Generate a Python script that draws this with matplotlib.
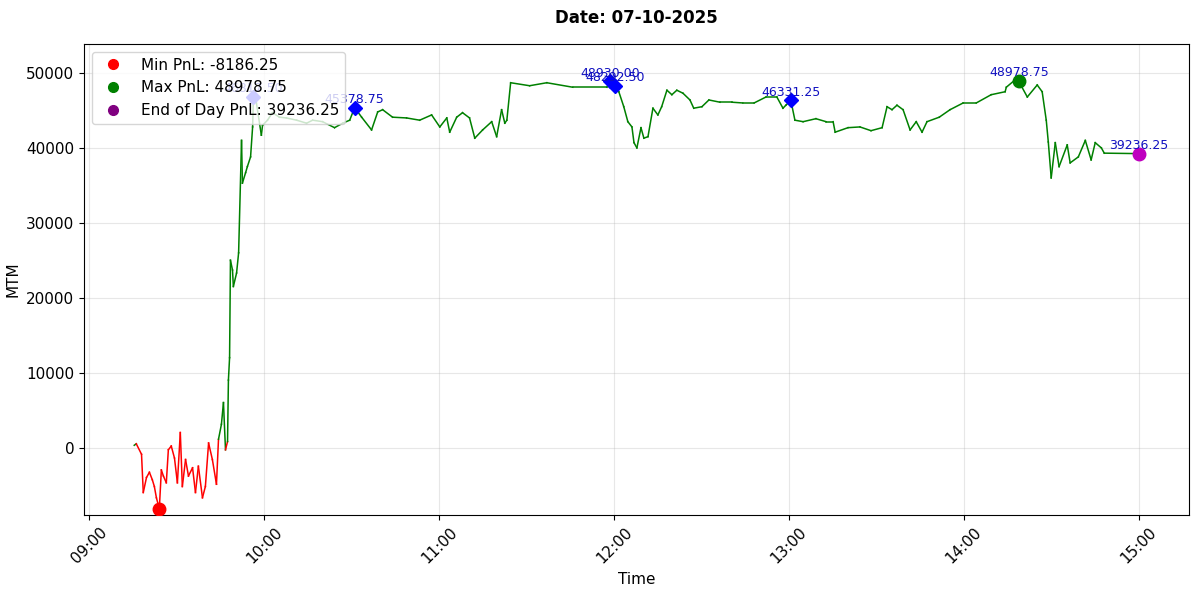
import matplotlib
matplotlib.use("Agg")
import matplotlib.pyplot as plt
import matplotlib.dates as mdates
from matplotlib.lines import Line2D
import datetime as dt

# minutes after 09:00
minutes = [15.4, 16.1, 17.9, 18.5, 19.6, 20.6, 21.6, 22.3, 23.0, 24.0, 24.7, 25.4, 26.4, 27.1, 28.1,
           29.2, 30.2, 31.2, 31.9, 33.0, 34.0, 35.4, 36.4, 37.4, 38.8, 39.8, 40.9, 42.2, 43.6, 44.3,
           45.3, 46.0, 46.7, 47.4, 47.7, 48.1, 48.4, 49.1, 49.4, 50.5, 51.2, 52.2, 52.5, 53.6, 54.2,
           55.3, 56.0, 56.3, 57.3, 59.0, 59.4, 61.1, 62.8, 65.2, 67.6, 71.1, 74.5, 76.6, 80.0, 84.1,
           86.9, 89.3, 91.0, 93.4, 96.8, 98.9, 100.6, 104.0, 108.8, 113.3, 117.4, 120.2, 122.6, 123.6,
           126.0, 128.0, 130.4, 132.2, 134.9, 138.0, 139.7, 141.4, 142.5, 143.2, 144.5, 151.0, 156.9,
           165.8, 177.5, 178.5, 180.2, 181.6, 183.3, 184.7, 186.1, 186.8, 187.8, 189.2, 190.2, 191.6,
           193.3, 195.0, 196.3, 198.1, 199.8, 201.5, 203.6, 206.0, 207.3, 210.1, 212.5, 216.3, 220.4,
           224.1, 228.0, 232.1, 235.8, 237.9, 238.9, 240.6, 242.0, 244.8, 249.2, 252.7, 255.1, 255.8,
           260.2, 264.3, 268.1, 271.9, 273.6, 275.3, 277.0, 279.1, 281.5, 283.6, 285.6, 287.3, 291.5,
           295.2, 299.7, 304.2, 309.3, 314.1, 314.5, 317.2, 318.9, 321.7, 325.1, 326.8, 328.2, 328.9,
           329.9, 331.3, 332.6, 335.4, 336.4, 339.2, 341.6, 343.6, 345.0, 347.1, 348.1, 360.0]
pnl = [300, 500, -900, -6000, -4000, -3300, -4300, -5200, -6700, -8186.25, -3000, -3800, -4700, -300, 200,
       -1400, -4700, 2000, -5200, -1600, -3800, -2700, -6000, -2500, -6700, -5200, 600, -1600, -4900, 1100,
       3100, 6000, -300, 800, 9000, 12000, 25000, 23700, 21500, 23300, 26000, 41000, 35300, 36700, 37500,
       38800, 42800, 46817.50, 46000, 41700, 43000, 43700, 44700, 44100, 44000, 43700, 43300, 43700, 43500, 42700,
       43300, 43700, 45378.75, 44100, 42400, 44800, 45100, 44100, 44000, 43700, 44400, 42800, 44000, 42100,
       44100, 44700, 44000, 41300, 42400, 43500, 41500, 45100, 43300, 43700, 48700, 48300, 48700,
       48100, 48100, 48930.00, 48292.50, 47500, 45500, 43500, 42800, 40700, 40000, 42700, 41300, 41500,
       45300, 44400, 45500, 47700, 47100, 47700, 47300, 46400, 45300, 45500, 46400, 46100, 46100,
       46000, 46000, 46800, 46800, 45300, 45700, 46331.25, 43700, 43500, 43900, 43500, 43500, 42100,
       42700, 42800, 42300, 42700, 45500, 45100, 45700, 45100, 42400, 43500, 42100, 43500, 44100,
       45100, 46000, 46000, 47100, 47500, 48100, 48978.75, 48800, 46800, 48400, 47500, 43700, 40800,
       36000, 40700, 37500, 40400, 38000, 38800, 41000, 38400, 40700, 40000, 39300, 39236.25, 39236.25]
# annotated points (minute, value)
peak_min = [56.3, 91.0, 178.5, 180.2, 240.6]
peak_val = [46817.50, 45378.75, 48930.00, 48292.50, 46331.25]
min_pt = (24.0, -8186.25)
max_pt = (318.9, 48978.75)
end_pt = (360.0, 39236.25)

base = dt.datetime(2025, 10, 7, 9, 0)
def T(m):
    return base + dt.timedelta(minutes=m)

times = [T(m) for m in minutes]

fig, ax = plt.subplots(figsize=(12, 5.94), dpi=100)
fig.subplots_adjust(left=0.07, right=0.991, top=0.926, bottom=0.133)

for i in range(len(times) - 1):
    c = 'red' if min(pnl[i], pnl[i + 1]) < 0 and max(pnl[i], pnl[i + 1]) < 3000 else 'green'
    ax.plot(times[i:i + 2], pnl[i:i + 2], color=c, lw=1.1)

def label(m, v):
    ax.annotate(f"{v:.2f}", (T(m), v), xytext=(0, 1), textcoords='offset points',
                ha='center', va='bottom', color='#1010c0', fontsize=9, zorder=7)

for m, v in zip(peak_min, peak_val):
    ax.plot(T(m), v, 'D', color='blue', ms=7, zorder=5)
    label(m, v)
ax.plot(T(min_pt[0]), min_pt[1], 'o', color='red', ms=9, zorder=6)
ax.plot(T(max_pt[0]), max_pt[1], 'o', color='green', ms=9, zorder=6)
label(*max_pt)
ax.plot(T(end_pt[0]), end_pt[1], 'o', color='m', ms=9, zorder=6)
label(*end_pt)

ax.set_ylim(min_pt[1] * 1.1, max_pt[1] * 1.1)
ax.xaxis.set_major_locator(mdates.HourLocator())
ax.xaxis.set_major_formatter(mdates.DateFormatter('%H:%M'))
plt.setp(ax.get_xticklabels(), rotation=45)
ax.grid(True, alpha=0.3)
ax.set_xlabel('Time', fontsize=11)
ax.set_ylabel('MTM', fontsize=11)
ax.tick_params(labelsize=11)
ax.set_title('Date: 07-10-2025', fontsize=12, fontweight='bold', pad=15)

handles = [Line2D([], [], marker='o', ls='', color='red', ms=7, label=f"Min PnL: {min_pt[1]:.2f}"),
           Line2D([], [], marker='o', ls='', color='green', ms=7, label=f"Max PnL: {max_pt[1]:.2f}"),
           Line2D([], [], marker='o', ls='', color='purple', ms=7, label=f"End of Day PnL: {end_pt[1]:.2f}")]
leg = ax.legend(handles=handles, loc='upper left', fontsize=11)
leg.set_zorder(10)

fig.savefig('out.png')
